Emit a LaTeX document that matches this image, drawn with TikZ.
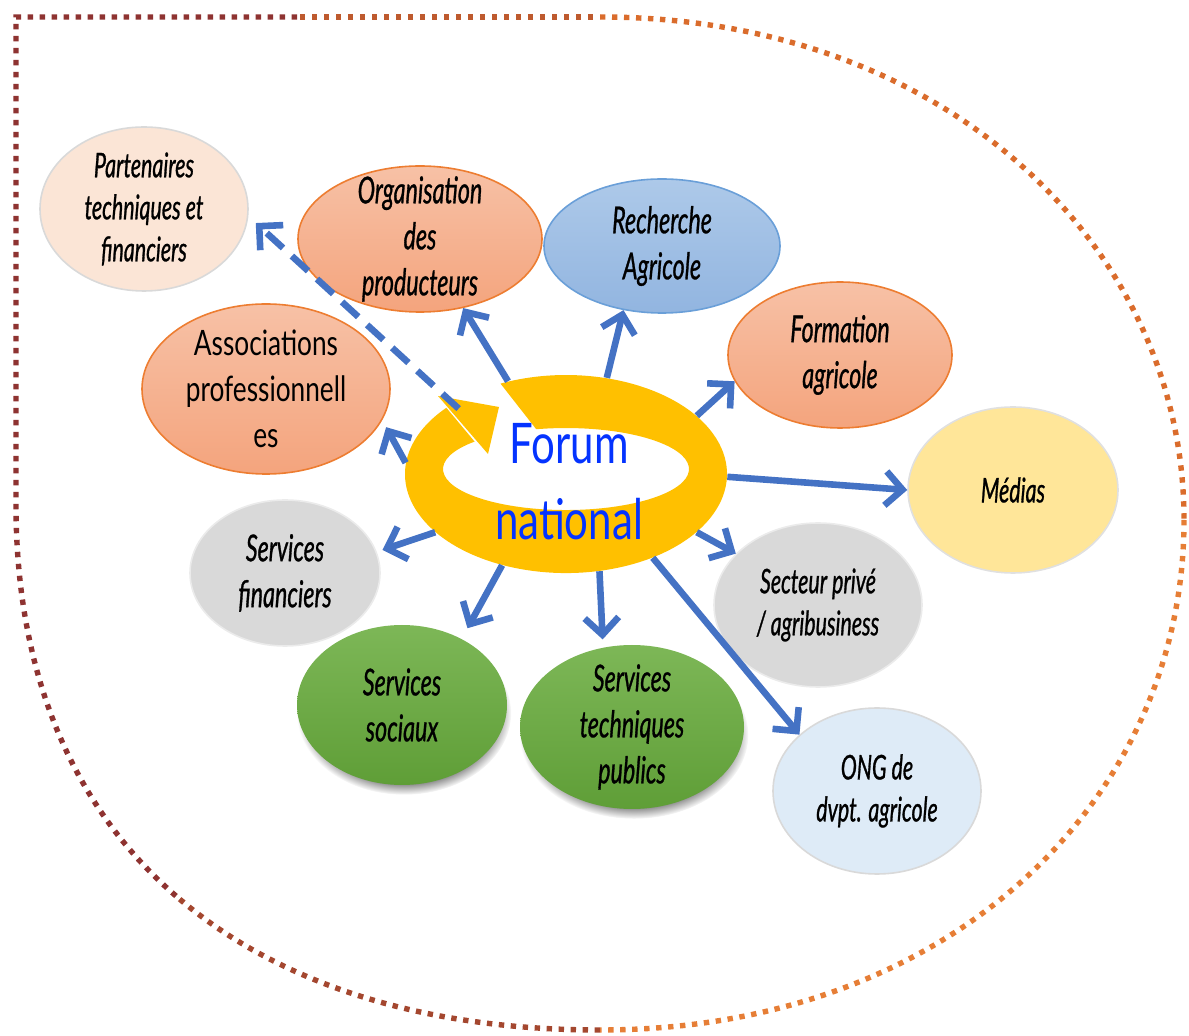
\documentclass[tikz,border=0pt]{standalone}
\usepackage{fontspec}
\setmainfont{Lato}
\newfontfamily\gillfont[FakeStretch=0.75]{Lato}
\newfontfamily\gillcond[FakeStretch=0.63, FakeBold=0.8]{Lato}
\usepackage{tikz}
\usetikzlibrary{arrows.meta,shapes.geometric,shadows,fadings}

\definecolor{peach}{HTML}{FBE5D6}
\definecolor{salmontop}{HTML}{F7C1A6}
\definecolor{salmonbot}{HTML}{F4A47D}
\definecolor{salmonline}{HTML}{ED7D31}
\definecolor{researchtop}{HTML}{ADC9E9}
\definecolor{researchbot}{HTML}{92B5E0}
\definecolor{researchline}{HTML}{6A9FD8}
\definecolor{mediayellow}{HTML}{FFE699}
\definecolor{softgray}{HTML}{D9D9D9}
\definecolor{greentop}{HTML}{7DB757}
\definecolor{greenbot}{HTML}{5F9E37}
\definecolor{ngoblue}{HTML}{DEEBF7}
\definecolor{linkblue}{HTML}{4472C4}
\definecolor{ringyellow}{HTML}{FFC000}
\definecolor{forumblue}{HTML}{0433FF}
\definecolor{framered}{HTML}{8E3331}
\definecolor{framebrown}{HTML}{A4472F}
\definecolor{framerust}{HTML}{BE5A2E}
\definecolor{frameorange}{HTML}{DA6C2C}
\definecolor{frameamber}{HTML}{E67E36}

\begin{document}
\begin{tikzpicture}[
    x=0.5pt, y=-0.5pt,
    bubble/.style={ellipse, inner xsep=0pt, inner ysep=-14pt, align=center, font=\gillcond\itshape\fontsize{18.5}{23}\selectfont},
    smalltext/.style={font=\gillcond\itshape\fontsize{17}{21}\selectfont},
    salmon/.style={bubble, draw=salmonline, line width=0.8pt, top color=salmontop, bottom color=salmonbot},
    greenball/.style={bubble, top color=greentop, bottom color=greenbot, circular drop shadow={shadow xshift=1pt, shadow yshift=-4pt, shadow scale=1.02}},
    link/.style={draw=linkblue, line width=3.3pt, -{Straight Barb[length=8.5pt,width=17pt]}},
    frame/.style={line width=2.7pt, dash pattern=on 2.7pt off 3.3pt}
  ]

  \useasboundingbox (0,0) rectangle (1189,1036);

  \draw[frame, framered] (176,896) .. controls (74,808) and (15,675) .. (16,500) -- (16,17) -- (300,17);
  \draw[frame, framebrown] (600,1030) .. controls (425,1030) and (279,985) .. (176,896);
  \draw[frame, framerust] (300,17) -- (600,17);
  \draw[frame, frameorange] (600,17) .. controls (950,17) and (1184,250) .. (1184,520);
  \draw[frame, frameamber] (1184,520) .. controls (1184,800) and (950,1030) .. (600,1030);

  \node[bubble, smalltext, fill=peach, draw=black!15, line width=0.8pt, minimum width=104pt, minimum height=82pt] (partners) at (144,209) {Partenaires\\techniques et\\financiers};
  \node[salmon, minimum width=122pt, minimum height=73pt] (producers) at (420,239) {Organisation\\des\\producteurs};
  \node[bubble, draw=researchline, line width=0.8pt, top color=researchtop, bottom color=researchbot, minimum width=118pt, minimum height=67pt] (research) at (662,246) {Recherche\\Agricole};
  \node[salmon, minimum width=112pt, minimum height=73pt] (training) at (840,355) {Formation\\agricole};
  \node[salmon, font=\gillfont\fontsize{17.5}{23}\selectfont, minimum width=124pt, minimum height=85pt] (assoc) at (266,389) {Associations\\professionnell\\es};
  \node[bubble, smalltext, fill=mediayellow, draw=black!12, line width=0.8pt, minimum width=105pt, minimum height=83pt] (media) at (1013,490) {Médias};
  \node[bubble, fill=softgray, draw=black!8, line width=0.8pt, minimum width=95pt, minimum height=73pt] (finance) at (285,573) {Services\\financiers};
  \node[bubble, smalltext, fill=softgray, draw=black!8, line width=0.8pt, minimum width=104pt, minimum height=82pt] (private) at (818,605) {Secteur privé\\/ agribusiness};
  \node[greenball, minimum width=105pt, minimum height=80pt] (social) at (402,705) {Services\\sociaux};
  \node[greenball, minimum width=112pt, minimum height=82pt] (public) at (632,727) {Services\\techniques\\publics};
  \node[bubble, smalltext, fill=ngoblue, draw=black!15, line width=0.8pt, minimum width=104pt, minimum height=83pt] (ngo) at (877,791) {ONG de\\dvpt. agricole};

  \node[ellipse, inner sep=0pt, minimum width=161pt, minimum height=99pt] (forum) at (566,474) {};
  \fill[ringyellow] (500.5,383.6) arc[start angle=246, end angle=582, x radius=161, y radius=99]
    -- (474.6,441.6) arc[start angle=582, end angle=256, x radius=123, y radius=41] -- cycle;
  \fill[ringyellow] (438,396) -- (499,407) -- (488,454) -- cycle;

  \draw[link, dash pattern=on 11pt off 6pt, shorten <=-4pt, shorten >=5pt] (forum.148) -- (partners.-4);
  \draw[link] (forum.122) -- (producers.-58);
  \draw[link] (forum.67) -- (research.-121);
  \draw[link] (forum.24) -- (training.194);
  \draw[link, shorten >=4pt] (forum.176) -- (assoc.-15);
  \draw[link] (forum.-1) -- (media.180);
  \draw[link, shorten >=3pt] (forum.204) -- (finance.13);
  \draw[link] (forum.-24) -- (private.148);
  \draw[link, shorten >=6pt] (forum.235) -- (social.48);
  \draw[link, shorten >=4pt] (forum.-71) -- (public.110);
  \draw[link] (forum.-44) -- (ngo.144);

  \node[font=\gillfont\fontsize{28}{38}\selectfont, text=forumblue, align=center, inner sep=0pt] (forumlabel) at (569,482) {Forum\\national};

\end{tikzpicture}
\end{document}
